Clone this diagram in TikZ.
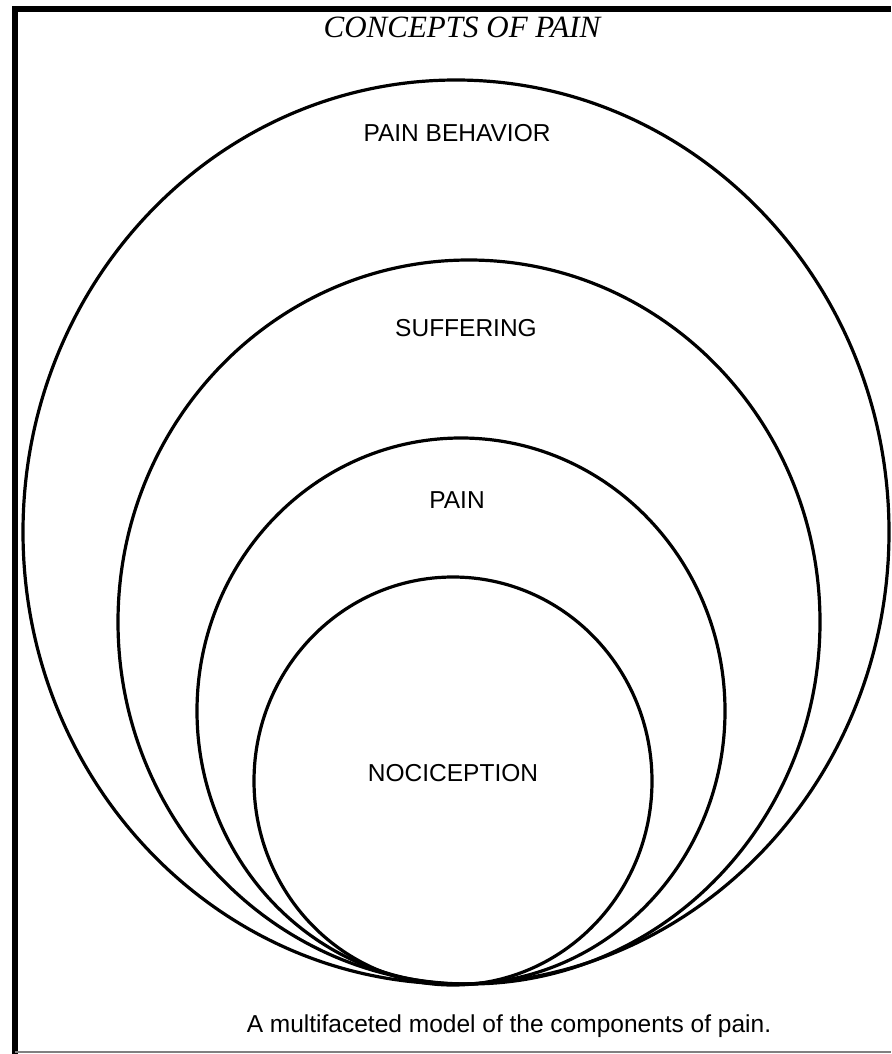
\documentclass[tikz,border=0pt]{standalone}
\usepackage{fontspec}
\setmainfont{Liberation Serif}
\setsansfont{Liberation Sans}
\usetikzlibrary{positioning}

\begin{document}
\begin{tikzpicture}[x=1pt,y=-1pt,
	ring/.style={line width=3.2pt},
	ringlabel/.style={font=\sffamily\fontsize{24.5}{28}\selectfont, inner sep=0pt}]
	\useasboundingbox (0,0) rectangle (891,1054);
	\fill [white] (0,0) rectangle (891,1054);
	% frame
	\draw [line width=6pt] (15,1054) -- (15,9) -- (891,9);
	\draw [gray, line width=2pt] (15,1052) -- (891,1052);
	% rings
	\draw [ring] (456,532) ellipse [x radius=433, y radius=452];
	\draw [ring] (469,622) ellipse [x radius=351, y radius=362];
	\draw [ring] (461,711) ellipse [x radius=264, y radius=273];
	\draw [ring] (453,781) ellipse [x radius=199, y radius=204];
	% labels
	\node [inner sep=0pt, anchor=base](title_node) at (462,38) {\fontsize{31}{34}\selectfont\itshape CONCEPTS OF PAIN};
	\node [ringlabel](behavior_node) at (457,133) {PAIN BEHAVIOR};
	\node [ringlabel](suffering_node) at (466,328) {SUFFERING};
	\node [ringlabel](pain_node) at (457,500) {PAIN};
	\node [ringlabel](nociception_node) at (453,773) {NOCICEPTION};
	\node [inner sep=0pt, anchor=base, font=\sffamily\fontsize{24.5}{28}\selectfont](caption_node) at (509,1032) {A multifaceted model of the components of pain.};
\end{tikzpicture}
\end{document}
